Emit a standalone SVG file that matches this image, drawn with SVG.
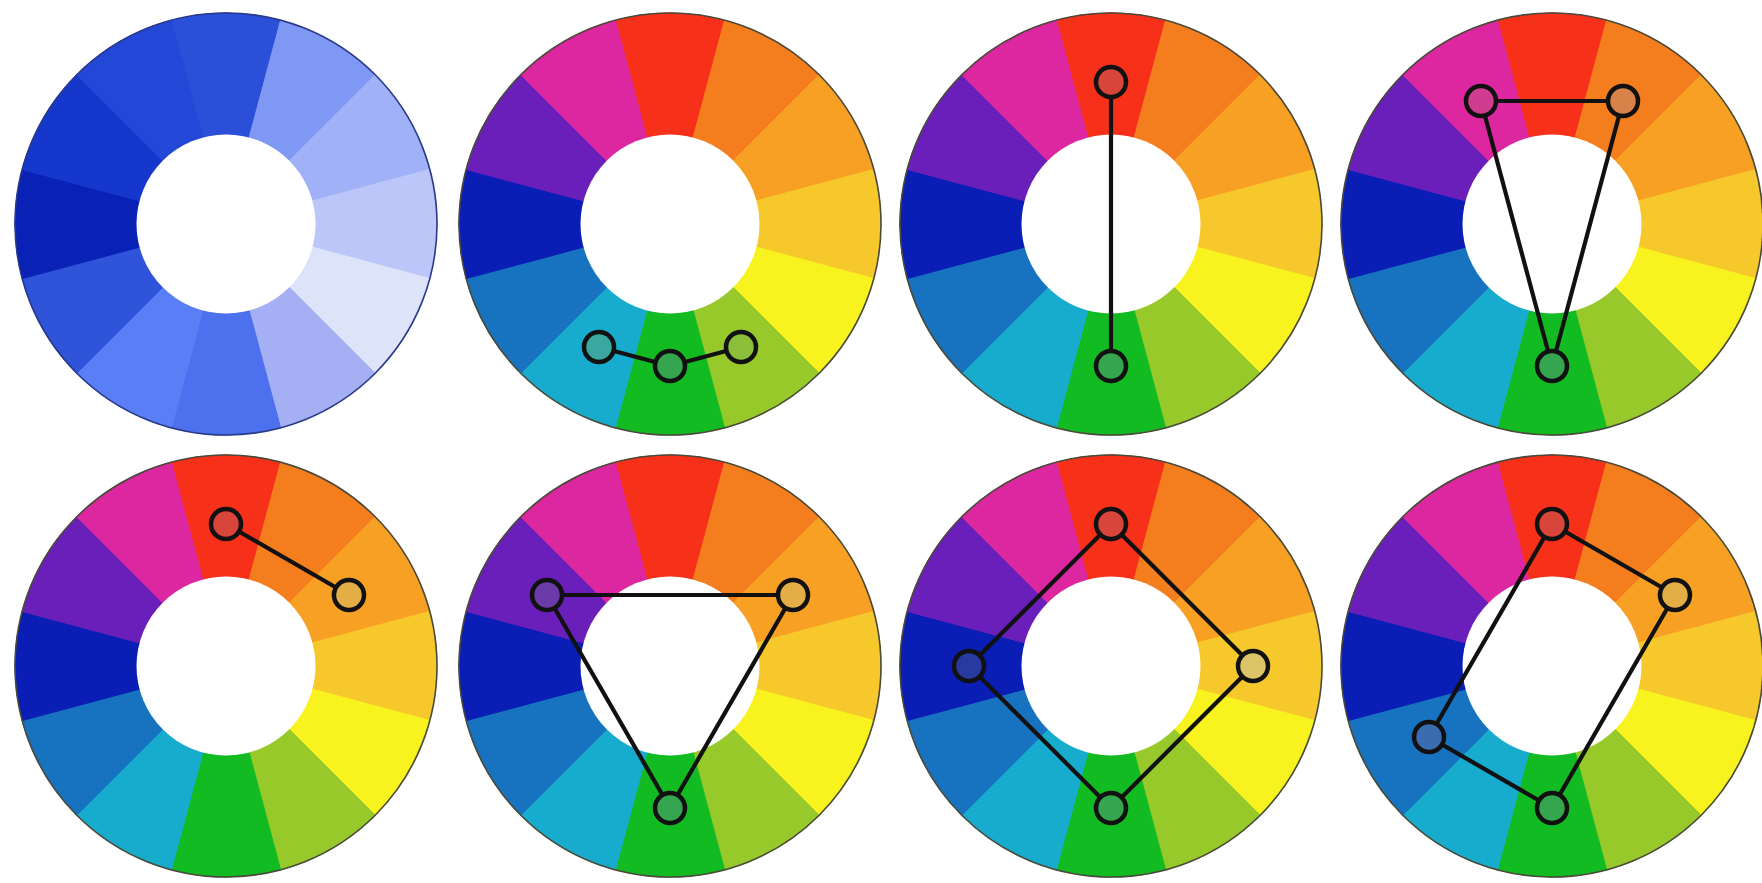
<svg xmlns="http://www.w3.org/2000/svg" xmlns:xlink="http://www.w3.org/1999/xlink" width="1762" height="883" viewBox="0 0 1762 883">
<style>
.seg{stroke-width:1}
.rim{fill:none;stroke:#4a4a3a;stroke-width:1.6}
.rimb{fill:none;stroke:#2a3a8a;stroke-width:1.6}
.hole{fill:#ffffff}
.link{fill:none;stroke:#111;stroke-width:4.2;stroke-linejoin:round;stroke-linecap:round}
.dot{stroke:#111;stroke-width:4.5}
.c0{fill:#F7301A;stroke:#F7301A}
.c1{fill:#F47E1E;stroke:#F47E1E}
.c2{fill:#F7A023;stroke:#F7A023}
.c3{fill:#F7C82C;stroke:#F7C82C}
.c4{fill:#F8F21E;stroke:#F8F21E}
.c5{fill:#97C92A;stroke:#97C92A}
.c6{fill:#13BB22;stroke:#13BB22}
.c7{fill:#17ACCE;stroke:#17ACCE}
.c8{fill:#1773C0;stroke:#1773C0}
.c9{fill:#0A1DB5;stroke:#0A1DB5}
.c10{fill:#6B1FBA;stroke:#6B1FBA}
.c11{fill:#DC27A0;stroke:#DC27A0}
.b0{fill:#2C4FD9;stroke:#2C4FD9}
.b1{fill:#7F98F3;stroke:#7F98F3}
.b2{fill:#A0B1F7;stroke:#A0B1F7}
.b3{fill:#BCC6F8;stroke:#BCC6F8}
.b4{fill:#DDE3F9;stroke:#DDE3F9}
.b5{fill:#A5AFF3;stroke:#A5AFF3}
.b6{fill:#4C70EE;stroke:#4C70EE}
.b7{fill:#5A7EF6;stroke:#5A7EF6}
.b8{fill:#2F54DA;stroke:#2F54DA}
.b9{fill:#0A21B5;stroke:#0A21B5}
.b10{fill:#1637CC;stroke:#1637CC}
.b11{fill:#2347D6;stroke:#2347D6}
.m0{fill:#D8453A}
.m1{fill:#D8824A}
.m2{fill:#E3AE45}
.m3{fill:#DCC468}
.m5{fill:#8DBE3A}
.m6{fill:#35A550}
.m7{fill:#3AA8A0}
.m8{fill:#3C6CB0}
.m9{fill:#263AA0}
.m10{fill:#6A3AA8}
.m11{fill:#D03C90}
</style>
<defs>
<path id="s0" class="seg" d="M0 0 L-54.61 -203.81 A211 211 0 0 1 54.61 -203.81 Z"/>
<path id="s1" class="seg" d="M0 0 L54.61 -203.81 A211 211 0 0 1 149.2 -149.2 Z"/>
<path id="s2" class="seg" d="M0 0 L149.2 -149.2 A211 211 0 0 1 203.81 -54.61 Z"/>
<path id="s3" class="seg" d="M0 0 L203.81 -54.61 A211 211 0 0 1 203.81 54.61 Z"/>
<path id="s4" class="seg" d="M0 0 L203.81 54.61 A211 211 0 0 1 149.2 149.2 Z"/>
<path id="s5" class="seg" d="M0 0 L149.2 149.2 A211 211 0 0 1 54.61 203.81 Z"/>
<path id="s6" class="seg" d="M0 0 L54.61 203.81 A211 211 0 0 1 -54.61 203.81 Z"/>
<path id="s7" class="seg" d="M0 0 L-54.61 203.81 A211 211 0 0 1 -149.2 149.2 Z"/>
<path id="s8" class="seg" d="M0 0 L-149.2 149.2 A211 211 0 0 1 -203.81 54.61 Z"/>
<path id="s9" class="seg" d="M0 0 L-203.81 54.61 A211 211 0 0 1 -203.81 -54.61 Z"/>
<path id="s10" class="seg" d="M0 0 L-203.81 -54.61 A211 211 0 0 1 -149.2 -149.2 Z"/>
<path id="s11" class="seg" d="M0 0 L-149.2 -149.2 A211 211 0 0 1 -54.61 -203.81 Z"/>
<g id="rainbow">
<use href="#s0" class="c0"/><use href="#s1" class="c1"/><use href="#s2" class="c2"/><use href="#s3" class="c3"/>
<use href="#s4" class="c4"/><use href="#s5" class="c5"/><use href="#s6" class="c6"/><use href="#s7" class="c7"/>
<use href="#s8" class="c8"/><use href="#s9" class="c9"/><use href="#s10" class="c10"/><use href="#s11" class="c11"/>
<circle r="211" class="rim"/>
<circle r="89.5" class="hole"/>
</g>
</defs>
<rect width="1762" height="883" fill="#ffffff"/>

<g id="wheel-monochrome" transform="translate(226,224)">
<use href="#s0" class="b0"/><use href="#s1" class="b1"/><use href="#s2" class="b2"/><use href="#s3" class="b3"/>
<use href="#s4" class="b4"/><use href="#s5" class="b5"/><use href="#s6" class="b6"/><use href="#s7" class="b7"/>
<use href="#s8" class="b8"/><use href="#s9" class="b9"/><use href="#s10" class="b10"/><use href="#s11" class="b11"/>
<circle r="211" class="rimb"/>
<circle r="89.5" class="hole"/>
</g>

<g id="wheel-analogous" transform="translate(670,224)">
<use href="#rainbow"/>
<g class="connectors"><polyline class="link" points="-71,122.98 0,142 71,122.98"/></g>
<circle class="dot m7" cx="-71" cy="122.98" r="15"/>
<circle class="dot m6" cx="0" cy="142" r="15"/>
<circle class="dot m5" cx="71" cy="122.98" r="15"/>
</g>

<g id="wheel-complementary" transform="translate(1111,224)">
<use href="#rainbow"/>
<g class="connectors"><line class="link" x1="0" y1="-142" x2="0" y2="142"/></g>
<circle class="dot m0" cx="0" cy="-142" r="15"/>
<circle class="dot m6" cx="0" cy="142" r="15"/>
</g>

<g id="wheel-split-complementary" transform="translate(1552,224)">
<use href="#rainbow"/>
<g class="connectors"><polygon class="link" points="-71,-122.98 71,-122.98 0,142"/></g>
<circle class="dot m11" cx="-71" cy="-122.98" r="15"/>
<circle class="dot m1" cx="71" cy="-122.98" r="15"/>
<circle class="dot m6" cx="0" cy="142" r="15"/>
</g>

<g id="wheel-pair" transform="translate(226,666)">
<use href="#rainbow"/>
<g class="connectors"><line class="link" x1="0" y1="-142" x2="122.98" y2="-71"/></g>
<circle class="dot m0" cx="0" cy="-142" r="15"/>
<circle class="dot m2" cx="122.98" cy="-71" r="15"/>
</g>

<g id="wheel-triadic" transform="translate(670,666)">
<use href="#rainbow"/>
<g class="connectors"><polygon class="link" points="-122.98,-71 122.98,-71 0,142"/></g>
<circle class="dot m10" cx="-122.98" cy="-71" r="15"/>
<circle class="dot m2" cx="122.98" cy="-71" r="15"/>
<circle class="dot m6" cx="0" cy="142" r="15"/>
</g>

<g id="wheel-square" transform="translate(1111,666)">
<use href="#rainbow"/>
<g class="connectors"><polygon class="link" points="0,-142 142,0 0,142 -142,0"/></g>
<circle class="dot m0" cx="0" cy="-142" r="15"/>
<circle class="dot m3" cx="142" cy="0" r="15"/>
<circle class="dot m6" cx="0" cy="142" r="15"/>
<circle class="dot m9" cx="-142" cy="0" r="15"/>
</g>

<g id="wheel-rectangle" transform="translate(1552,666)">
<use href="#rainbow"/>
<g class="connectors"><polygon class="link" points="0,-142 122.98,-71 0,142 -122.98,71"/></g>
<circle class="dot m0" cx="0" cy="-142" r="15"/>
<circle class="dot m2" cx="122.98" cy="-71" r="15"/>
<circle class="dot m6" cx="0" cy="142" r="15"/>
<circle class="dot m8" cx="-122.98" cy="71" r="15"/>
</g>
</svg>
